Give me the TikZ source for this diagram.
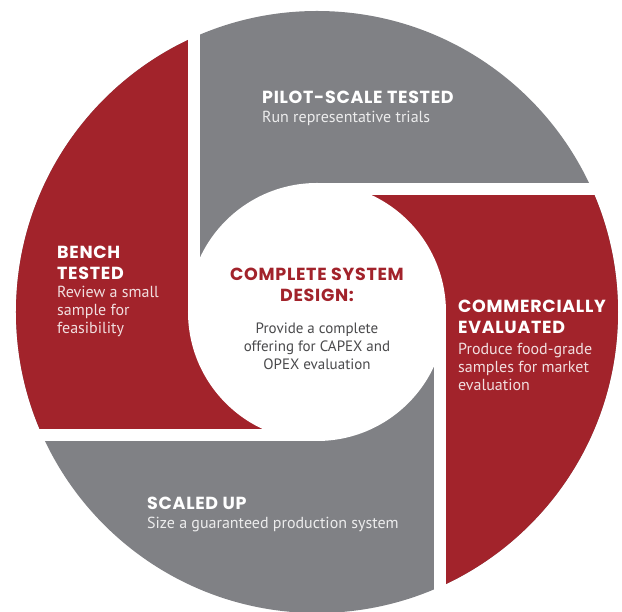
\documentclass[tikz,border=0pt]{standalone}
\usepackage{fontspec}
\setmainfont{PT Sans}
\newfontfamily\headfont{Poppins}[LetterSpace=4]

\definecolor{bladered}{HTML}{A2232B}
\definecolor{bladegray}{HTML}{808185}
\definecolor{bodygray}{HTML}{4A4A4C}

\tikzset{
  title/.style={font=\headfont\bfseries\fontsize{17.5}{20.5}\selectfont, text=white,
    align=left, inner sep=0pt, anchor=north west},
  blurb/.style={font=\fontsize{16}{17.8}\selectfont, text=white, text opacity=.85,
    align=left, inner sep=0pt, anchor=north west},
  gap/.style={white, line width=12pt},
}

\begin{document}
\begin{tikzpicture}[x=1pt,y=1pt]
  \useasboundingbox (-317,-300) rectangle (305,312);

  % outer disc, gray blades underneath
  \fill[bladegray] (0,0) circle (301);

  % the two red blades
  \begin{scope}
    \clip (0,0) circle (301);
    \fill[bladered] (-400,-123) -- (0,-123) -- (0,0) -- (-123,0) -- (-123,400) -- (-400,400) -- cycle;
    \fill[bladered] (400,123) -- (0,123) -- (0,0) -- (123,0) -- (123,-400) -- (400,-400) -- cycle;
  \end{scope}

  % white gaps between the blades
  \draw[gap] (-123,0) -- (-123,400);
  \draw[gap] (0,123) -- (400,123);
  \draw[gap] (123,0) -- (123,-400);
  \draw[gap] (0,-123) -- (-400,-123);

  % hole in the middle
  \fill[white] (0,0) circle (129);

  % blade labels
  \node[title] (pilot) at (-55,221) {PILOT-SCALE TESTED};
  \node[blurb] (pilottxt) at (-55,201) {Run representative trials};

  \node[title] (bench) at (-260,66) {BENCH\\TESTED};
  \node[blurb] (benchtxt) at (-260,26) {Review a small\\sample for\\feasibility};

  \node[title] (comm) at (141,12) {COMMERCIALLY\\EVALUATED};
  \node[blurb] (commtxt) at (141,-31) {Produce food-grade\\samples for market\\evaluation};

  \node[title] (scaled) at (-170,-185) {SCALED UP};
  \node[blurb] (scaledtxt) at (-170,-205) {Size a guaranteed production system};

  % centre
  \node[title, text=bladered, align=center, anchor=north] (design) at (0,44) {COMPLETE SYSTEM\\DESIGN:};
  \node[blurb, font=\fontsize{15}{18}\selectfont, text=bodygray, text opacity=1, align=center, anchor=north]
    (designtxt) at (0,-11) {Provide a complete\\offering for CAPEX and\\OPEX evaluation};
\end{tikzpicture}
\end{document}
